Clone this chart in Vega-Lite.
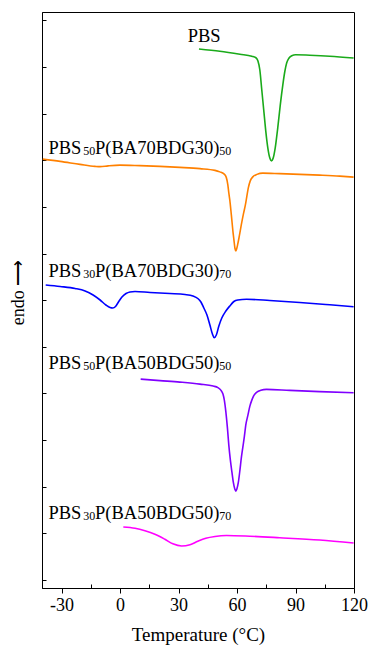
{
  "$schema": "https://vega.github.io/schema/vega-lite/v6.json",
  "autosize": {"type": "none"},
  "padding": {"left": 42, "top": 12, "right": 15, "bottom": 62},
  "width": 312,
  "height": 576,
  "background": "white",
  "config": {
    "view": {"stroke": "black", "strokeWidth": 1},
    "font": "Liberation Serif",
    "axis": {"labelFont": "Liberation Serif", "titleFont": "Liberation Serif", "labelColor": "black", "titleColor": "black", "domainColor": "black", "tickColor": "black", "titleFontWeight": "normal", "grid": false}
  },
  "datasets": {
    "curves": [
      {"s":"PBS","T":40.5,"y":53.07},{"s":"PBS","T":51.2,"y":52.85},{"s":"PBS","T":61.5,"y":52.55},{"s":"PBS","T":67.6,"y":52.35},{"s":"PBS","T":69.7,"y":52.2},{"s":"PBS","T":70.7,"y":51.9},{"s":"PBS","T":71.7,"y":51.0},{"s":"PBS","T":72.7,"y":49.0},{"s":"PBS","T":73.8,"y":46.8},{"s":"PBS","T":74.8,"y":44.8},{"s":"PBS","T":75.8,"y":43.2},{"s":"PBS","T":76.8,"y":42.2},{"s":"PBS","T":77.7,"y":41.9},{"s":"PBS","T":78.6,"y":42.2},{"s":"PBS","T":79.6,"y":43.2},{"s":"PBS","T":80.9,"y":45.2},{"s":"PBS","T":82.2,"y":47.5},{"s":"PBS","T":83.5,"y":49.5},{"s":"PBS","T":84.5,"y":50.8},{"s":"PBS","T":85.5,"y":51.7},{"s":"PBS","T":86.6,"y":52.15},{"s":"PBS","T":88.1,"y":52.4},{"s":"PBS","T":90.1,"y":52.5},{"s":"PBS","T":97.3,"y":52.45},{"s":"PBS","T":107.6,"y":52.35},{"s":"PBS","T":119.8,"y":52.17},

      {"s":"PBS50P(BA70BDG30)50","T":-39.6,"y":42.07},{"s":"PBS50P(BA70BDG30)50","T":-30.7,"y":41.85},{"s":"PBS50P(BA70BDG30)50","T":-20.5,"y":41.55},{"s":"PBS50P(BA70BDG30)50","T":-12.8,"y":41.35},{"s":"PBS50P(BA70BDG30)50","T":-10.2,"y":41.32},{"s":"PBS50P(BA70BDG30)50","T":-6.1,"y":41.4},{"s":"PBS50P(BA70BDG30)50","T":0,"y":41.47},{"s":"PBS50P(BA70BDG30)50","T":10.2,"y":41.42},{"s":"PBS50P(BA70BDG30)50","T":20.5,"y":41.35},{"s":"PBS50P(BA70BDG30)50","T":30.7,"y":41.25},{"s":"PBS50P(BA70BDG30)50","T":41.0,"y":41.12},{"s":"PBS50P(BA70BDG30)50","T":48.7,"y":40.95},{"s":"PBS50P(BA70BDG30)50","T":51.2,"y":40.8},{"s":"PBS50P(BA70BDG30)50","T":53.3,"y":40.6},{"s":"PBS50P(BA70BDG30)50","T":54.5,"y":40.25},{"s":"PBS50P(BA70BDG30)50","T":55.3,"y":39.5},{"s":"PBS50P(BA70BDG30)50","T":55.8,"y":38.7},{"s":"PBS50P(BA70BDG30)50","T":56.3,"y":38.0},{"s":"PBS50P(BA70BDG30)50","T":57.1,"y":36.5},{"s":"PBS50P(BA70BDG30)50","T":58.0,"y":34.7},{"s":"PBS50P(BA70BDG30)50","T":58.6,"y":33.7},{"s":"PBS50P(BA70BDG30)50","T":59.0,"y":33.1},{"s":"PBS50P(BA70BDG30)50","T":59.4,"y":32.9},{"s":"PBS50P(BA70BDG30)50","T":59.8,"y":33.1},{"s":"PBS50P(BA70BDG30)50","T":60.3,"y":33.5},{"s":"PBS50P(BA70BDG30)50","T":61.2,"y":34.4},{"s":"PBS50P(BA70BDG30)50","T":62.2,"y":35.5},{"s":"PBS50P(BA70BDG30)50","T":63.3,"y":36.6},{"s":"PBS50P(BA70BDG30)50","T":64.3,"y":37.5},{"s":"PBS50P(BA70BDG30)50","T":65.0,"y":38.3},{"s":"PBS50P(BA70BDG30)50","T":65.8,"y":39.2},{"s":"PBS50P(BA70BDG30)50","T":66.8,"y":39.9},{"s":"PBS50P(BA70BDG30)50","T":68.1,"y":40.3},{"s":"PBS50P(BA70BDG30)50","T":70.2,"y":40.55},{"s":"PBS50P(BA70BDG30)50","T":73.2,"y":40.67},{"s":"PBS50P(BA70BDG30)50","T":81.9,"y":40.62},{"s":"PBS50P(BA70BDG30)50","T":92.2,"y":40.55},{"s":"PBS50P(BA70BDG30)50","T":102.4,"y":40.47},{"s":"PBS50P(BA70BDG30)50","T":112.7,"y":40.37},{"s":"PBS50P(BA70BDG30)50","T":119.8,"y":40.27},

      {"s":"PBS30P(BA70BDG30)70","T":-38.1,"y":29.5},{"s":"PBS30P(BA70BDG30)70","T":-30.7,"y":29.35},{"s":"PBS30P(BA70BDG30)70","T":-23.0,"y":29.15},{"s":"PBS30P(BA70BDG30)70","T":-17.9,"y":28.9},{"s":"PBS30P(BA70BDG30)70","T":-13.8,"y":28.5},{"s":"PBS30P(BA70BDG30)70","T":-10.2,"y":28.0},{"s":"PBS30P(BA70BDG30)70","T":-7.2,"y":27.5},{"s":"PBS30P(BA70BDG30)70","T":-5.1,"y":27.25},{"s":"PBS30P(BA70BDG30)70","T":-3.7,"y":27.2},{"s":"PBS30P(BA70BDG30)70","T":-2.3,"y":27.35},{"s":"PBS30P(BA70BDG30)70","T":-0.8,"y":27.8},{"s":"PBS30P(BA70BDG30)70","T":1.0,"y":28.3},{"s":"PBS30P(BA70BDG30)70","T":3.1,"y":28.65},{"s":"PBS30P(BA70BDG30)70","T":5.1,"y":28.8},{"s":"PBS30P(BA70BDG30)70","T":7.7,"y":28.85},{"s":"PBS30P(BA70BDG30)70","T":15.4,"y":28.75},{"s":"PBS30P(BA70BDG30)70","T":25.6,"y":28.65},{"s":"PBS30P(BA70BDG30)70","T":33.3,"y":28.55},{"s":"PBS30P(BA70BDG30)70","T":37.4,"y":28.4},{"s":"PBS30P(BA70BDG30)70","T":39.9,"y":28.15},{"s":"PBS30P(BA70BDG30)70","T":41.5,"y":27.8},{"s":"PBS30P(BA70BDG30)70","T":43.0,"y":27.2},{"s":"PBS30P(BA70BDG30)70","T":44.6,"y":26.5},{"s":"PBS30P(BA70BDG30)70","T":46.1,"y":25.5},{"s":"PBS30P(BA70BDG30)70","T":47.4,"y":24.6},{"s":"PBS30P(BA70BDG30)70","T":48.3,"y":24.23},{"s":"PBS30P(BA70BDG30)70","T":49.4,"y":24.5},{"s":"PBS30P(BA70BDG30)70","T":50.7,"y":25.4},{"s":"PBS30P(BA70BDG30)70","T":52.2,"y":26.2},{"s":"PBS30P(BA70BDG30)70","T":54.3,"y":26.9},{"s":"PBS30P(BA70BDG30)70","T":56.3,"y":27.4},{"s":"PBS30P(BA70BDG30)70","T":58.4,"y":27.85},{"s":"PBS30P(BA70BDG30)70","T":60.4,"y":28.0},{"s":"PBS30P(BA70BDG30)70","T":64.9,"y":28.07},{"s":"PBS30P(BA70BDG30)70","T":76.8,"y":27.95},{"s":"PBS30P(BA70BDG30)70","T":92.2,"y":27.75},{"s":"PBS30P(BA70BDG30)70","T":107.6,"y":27.52},{"s":"PBS30P(BA70BDG30)70","T":119.8,"y":27.33},

      {"s":"PBS50P(BA50BDG50)50","T":10.6,"y":20.1},{"s":"PBS50P(BA50BDG50)50","T":20.5,"y":19.95},{"s":"PBS50P(BA50BDG50)50","T":30.7,"y":19.8},{"s":"PBS50P(BA50BDG50)50","T":41.0,"y":19.6},{"s":"PBS50P(BA50BDG50)50","T":47.8,"y":19.4},{"s":"PBS50P(BA50BDG50)50","T":50.2,"y":19.25},{"s":"PBS50P(BA50BDG50)50","T":51.7,"y":19.0},{"s":"PBS50P(BA50BDG50)50","T":52.8,"y":18.6},{"s":"PBS50P(BA50BDG50)50","T":53.5,"y":18.0},{"s":"PBS50P(BA50BDG50)50","T":54.3,"y":16.8},{"s":"PBS50P(BA50BDG50)50","T":55.1,"y":15.2},{"s":"PBS50P(BA50BDG50)50","T":55.8,"y":13.5},{"s":"PBS50P(BA50BDG50)50","T":56.6,"y":12.0},{"s":"PBS50P(BA50BDG50)50","T":57.4,"y":10.8},{"s":"PBS50P(BA50BDG50)50","T":58.1,"y":9.8},{"s":"PBS50P(BA50BDG50)50","T":58.9,"y":9.1},{"s":"PBS50P(BA50BDG50)50","T":59.4,"y":8.9},{"s":"PBS50P(BA50BDG50)50","T":59.9,"y":9.1},{"s":"PBS50P(BA50BDG50)50","T":60.7,"y":9.8},{"s":"PBS50P(BA50BDG50)50","T":61.5,"y":11.0},{"s":"PBS50P(BA50BDG50)50","T":62.2,"y":12.2},{"s":"PBS50P(BA50BDG50)50","T":63.0,"y":13.3},{"s":"PBS50P(BA50BDG50)50","T":63.8,"y":14.4},{"s":"PBS50P(BA50BDG50)50","T":64.5,"y":15.5},{"s":"PBS50P(BA50BDG50)50","T":65.6,"y":16.5},{"s":"PBS50P(BA50BDG50)50","T":66.6,"y":17.4},{"s":"PBS50P(BA50BDG50)50","T":67.6,"y":18.0},{"s":"PBS50P(BA50BDG50)50","T":68.6,"y":18.45},{"s":"PBS50P(BA50BDG50)50","T":70.2,"y":18.8},{"s":"PBS50P(BA50BDG50)50","T":72.2,"y":18.98},{"s":"PBS50P(BA50BDG50)50","T":75.1,"y":19.07},{"s":"PBS50P(BA50BDG50)50","T":87.1,"y":18.97},{"s":"PBS50P(BA50BDG50)50","T":102.4,"y":18.85},{"s":"PBS50P(BA50BDG50)50","T":119.8,"y":18.73},

      {"s":"PBS30P(BA50BDG50)70","T":1.7,"y":5.33},{"s":"PBS30P(BA50BDG50)70","T":7.7,"y":5.2},{"s":"PBS30P(BA50BDG50)70","T":12.8,"y":4.95},{"s":"PBS30P(BA50BDG50)70","T":17.9,"y":4.6},{"s":"PBS30P(BA50BDG50)70","T":23.0,"y":4.1},{"s":"PBS30P(BA50BDG50)70","T":27.1,"y":3.65},{"s":"PBS30P(BA50BDG50)70","T":31.6,"y":3.43},{"s":"PBS30P(BA50BDG50)70","T":35.9,"y":3.55},{"s":"PBS30P(BA50BDG50)70","T":39.9,"y":3.9},{"s":"PBS30P(BA50BDG50)70","T":44.0,"y":4.2},{"s":"PBS30P(BA50BDG50)70","T":48.7,"y":4.38},{"s":"PBS30P(BA50BDG50)70","T":54.6,"y":4.47},{"s":"PBS30P(BA50BDG50)70","T":66.6,"y":4.4},{"s":"PBS30P(BA50BDG50)70","T":81.9,"y":4.25},{"s":"PBS30P(BA50BDG50)70","T":102.4,"y":4.02},{"s":"PBS30P(BA50BDG50)70","T":119.8,"y":3.73}
    ],
    "labels": [
      {"kind":"main","text":"PBS","T":34.7,"y":53.77},
      {"kind":"main","text":"PBS","T":-36.7,"y":42.57},{"kind":"sub","text":"50","T":-18.8,"y":42.47},{"kind":"main","text":"P(BA70BDG30)","T":-12.8,"y":42.57},{"kind":"sub","text":"50","T":50.9,"y":42.47},
      {"kind":"main","text":"PBS","T":-36.7,"y":30.3},{"kind":"sub","text":"30","T":-18.8,"y":30.2},{"kind":"main","text":"P(BA70BDG30)","T":-12.8,"y":30.3},{"kind":"sub","text":"70","T":50.9,"y":30.2},
      {"kind":"main","text":"PBS","T":-36.7,"y":21.1},{"kind":"sub","text":"50","T":-18.8,"y":21.0},{"kind":"main","text":"P(BA50BDG50)","T":-12.8,"y":21.1},{"kind":"sub","text":"50","T":50.9,"y":21.0},
      {"kind":"main","text":"PBS","T":-36.7,"y":6.1},{"kind":"sub","text":"30","T":-18.8,"y":6.0},{"kind":"main","text":"P(BA50BDG50)","T":-12.8,"y":6.1},{"kind":"sub","text":"70","T":50.9,"y":6.0}
    ]
  },
  "layer": [
    {
      "data": {"name": "curves"},
      "mark": {"type": "line", "strokeWidth": 1.6, "interpolate": "monotone"},
      "encoding": {
        "x": {"field": "T", "type": "quantitative", "scale": {"domain": [-40, 120], "nice": false, "zero": false},
              "axis": {"orient": "bottom", "values": [-30, 0, 30, 60, 90, 120], "tickSize": 5, "labelPadding": 3, "labelFontSize": 18, "labelExpr": "replace(datum.label, '−', '-')", "title": "Temperature (°C)", "titleFontSize": 19, "titlePadding": 11, "labelFlush": false}},
        "y": {"field": "y", "type": "quantitative", "scale": {"domain": [-0.77, 56.77], "nice": false, "zero": false},
              "axis": {"values": [0.03, 4.69, 9.35, 14.01, 18.67, 23.32, 27.98, 32.64, 37.30, 41.96, 46.61, 51.27, 55.93], "labels": false, "tickSize": -4, "title": "endo ⟶", "titleFontSize": 18, "titlePadding": 14, "titleY": 280}},
        "color": {"field": "s", "type": "nominal", "legend": null,
                  "scale": {"domain": ["PBS", "PBS50P(BA70BDG30)50", "PBS30P(BA70BDG30)70", "PBS50P(BA50BDG50)50", "PBS30P(BA50BDG50)70"],
                            "range": ["#1aaa1a", "#ff8000", "#0000ff", "#8000ff", "#ff00ff"]}},
        "detail": {"field": "s"}
      }
    },
    {
      "data": {"name": "labels"},
      "transform": [{"filter": "datum.kind === 'main'"}],
      "mark": {"type": "text", "align": "left", "baseline": "alphabetic", "fontSize": 18.5, "font": "Liberation Serif", "color": "black"},
      "encoding": {
        "x": {"field": "T", "type": "quantitative",
              "axis": {"orient": "bottom", "values": [-15, 15, 45, 75, 105], "labels": false, "tickSize": -4, "domain": false, "title": null}},
        "y": {"field": "y", "type": "quantitative"},
        "text": {"field": "text"}
      }
    },
    {
      "data": {"name": "labels"},
      "transform": [{"filter": "datum.kind === 'sub'"}],
      "mark": {"type": "text", "align": "left", "baseline": "alphabetic", "fontSize": 12, "font": "Liberation Serif", "color": "black"},
      "encoding": {
        "x": {"field": "T", "type": "quantitative", "axis": null},
        "y": {"field": "y", "type": "quantitative"},
        "text": {"field": "text"}
      }
    }
  ],
  "resolve": {"axis": {"x": "independent"}}
}
